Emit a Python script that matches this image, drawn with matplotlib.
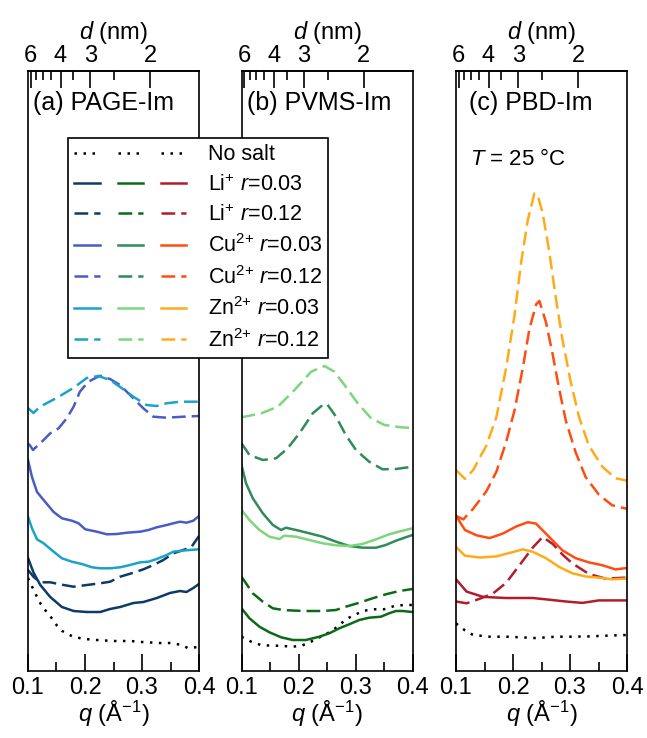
import numpy as np
import matplotlib
matplotlib.use('Agg')
import matplotlib.pyplot as plt
from matplotlib.lines import Line2D
from matplotlib.legend_handler import HandlerTuple

plt.rcParams['font.family'] = ['Liberation Sans', 'DejaVu Sans']
plt.rcParams['mathtext.fontset'] = 'custom'
plt.rcParams['mathtext.rm'] = 'Liberation Sans'
plt.rcParams['mathtext.it'] = 'Liberation Sans:italic'
plt.rcParams['mathtext.bf'] = 'Liberation Sans:bold'

# ---- (a) PAGE-Im ----
q_a_none = [0.10, 0.11, 0.12, 0.13, 0.14, 0.15, 0.16, 0.18, 0.20, 0.22, 0.25, 0.28, 0.30, 0.33, 0.35, 0.37, 0.38, 0.40]
I_a_none = [0.93, 0.81, 0.69, 0.61, 0.54, 0.46, 0.40, 0.34, 0.32, 0.31, 0.30, 0.30, 0.29, 0.28, 0.28, 0.26, 0.23, 0.24]
q_a_li03 = [0.100, 0.110, 0.1216, 0.139, 0.1595, 0.180, 0.203, 0.2267, 0.244, 0.2617, 0.285, 0.3025, 0.326, 0.349, 0.3667, 0.378, 0.390, 0.400]
I_a_li03 = [1.13, 0.98, 0.86, 0.74, 0.64, 0.60, 0.59, 0.59, 0.62, 0.64, 0.68, 0.69, 0.73, 0.78, 0.80, 0.79, 0.83, 0.87]
q_a_li12 = [0.100, 0.110, 0.1216, 0.139, 0.1624, 0.180, 0.2033, 0.2266, 0.2442, 0.2617, 0.285, 0.3025, 0.320, 0.3375, 0.355, 0.3726, 0.387, 0.400]
I_a_li12 = [1.01, 0.94, 0.887, 0.887, 0.86, 0.843, 0.86, 0.877, 0.893, 0.943, 0.983, 1.017, 1.06, 1.11, 1.177, 1.21, 1.243, 1.35]
q_a_cu03 = [0.100, 0.107, 0.1158, 0.1274, 0.145, 0.1595, 0.177, 0.1887, 0.2004, 0.2208, 0.2383, 0.2558, 0.2733, 0.2967, 0.3113, 0.3259, 0.3434, 0.355, 0.3667, 0.378, 0.390, 0.400]
I_a_cu03 = [2.11, 1.94, 1.79, 1.71, 1.59, 1.527, 1.503, 1.477, 1.417, 1.393, 1.367, 1.37, 1.383, 1.393, 1.41, 1.437, 1.46, 1.477, 1.493, 1.483, 1.503, 1.55]
q_a_cu12 = [0.100, 0.103, 0.1087, 0.1274, 0.139, 0.1537, 0.168, 0.180, 0.191, 0.2058, 0.2263, 0.2439, 0.2614, 0.279, 0.3023, 0.3199, 0.343, 0.3725, 0.400]
I_a_cu12 = [2.27, 2.26, 2.21, 2.31, 2.377, 2.427, 2.527, 2.643, 2.793, 2.893, 2.953, 2.92, 2.86, 2.76, 2.627, 2.543, 2.533, 2.543, 2.55]
q_a_zn03 = [0.100, 0.107, 0.1158, 0.1274, 0.145, 0.1595, 0.177, 0.1946, 0.2121, 0.2267, 0.2442, 0.2617, 0.2792, 0.2967, 0.3113, 0.3259, 0.3434, 0.355, 0.3696, 0.3842, 0.400]
I_a_zn03 = [1.543, 1.427, 1.317, 1.277, 1.193, 1.127, 1.093, 1.07, 1.037, 1.027, 1.027, 1.037, 1.06, 1.087, 1.093, 1.12, 1.16, 1.193, 1.203, 1.21, 1.217]
q_a_zn12 = [0.100, 0.1095, 0.121, 0.150, 0.1795, 0.203, 0.2233, 0.2439, 0.261, 0.2848, 0.308, 0.326, 0.343, 0.367, 0.400]
I_a_zn12 = [2.63, 2.58, 2.643, 2.73, 2.83, 2.93, 2.95, 2.91, 2.843, 2.743, 2.66, 2.65, 2.677, 2.693, 2.693]

# ---- (b) PVMS-Im ----
q_b_none = [0.100, 0.117, 0.134, 0.152, 0.169, 0.187, 0.2045, 0.222, 0.254, 0.2687, 0.283, 0.298, 0.315, 0.333, 0.350, 0.368, 0.385, 0.400]
I_b_none = [0.343, 0.293, 0.26, 0.253, 0.253, 0.243, 0.25, 0.293, 0.387, 0.443, 0.517, 0.56, 0.603, 0.617, 0.617, 0.65, 0.66, 0.66]
q_b_li03 = [0.100, 0.114, 0.1315, 0.149, 0.1695, 0.190, 0.213, 0.2366, 0.254, 0.2716, 0.289, 0.3067, 0.324, 0.3446, 0.359, 0.3708, 0.3825, 0.400]
I_b_li03 = [0.627, 0.527, 0.443, 0.387, 0.337, 0.31, 0.31, 0.343, 0.377, 0.427, 0.467, 0.51, 0.533, 0.543, 0.577, 0.60, 0.60, 0.59]
q_b_li12 = [0.100, 0.1198, 0.1374, 0.155, 0.1724, 0.1957, 0.219, 0.2424, 0.2658, 0.283, 0.3067, 0.330, 0.3533, 0.3767, 0.400]
I_b_li12 = [0.943, 0.777, 0.693, 0.627, 0.61, 0.603, 0.60, 0.60, 0.61, 0.643, 0.683, 0.727, 0.767, 0.80, 0.82]
q_b_cu03 = [0.100, 0.108, 0.1198, 0.1374, 0.155, 0.1695, 0.178, 0.1957, 0.219, 0.2424, 0.2658, 0.289, 0.3125, 0.336, 0.353, 0.371, 0.388, 0.400]
I_b_cu03 = [2.06, 1.877, 1.727, 1.577, 1.46, 1.41, 1.433, 1.41, 1.377, 1.343, 1.293, 1.25, 1.233, 1.233, 1.26, 1.303, 1.337, 1.36]
q_b_cu12 = [0.100, 0.114, 0.1374, 0.1607, 0.181, 0.2016, 0.225, 0.2424, 0.250, 0.2658, 0.283, 0.3008, 0.324, 0.3475, 0.371, 0.400]
I_b_cu12 = [2.277, 2.16, 2.11, 2.127, 2.227, 2.377, 2.577, 2.66, 2.67, 2.543, 2.36, 2.21, 2.093, 2.017, 2.02, 2.043]
q_b_zn03 = [0.100, 0.114, 0.1315, 0.149, 0.1665, 0.175, 0.1957, 0.219, 0.2424, 0.2658, 0.289, 0.3125, 0.336, 0.359, 0.3825, 0.400]
I_b_zn03 = [1.61, 1.51, 1.41, 1.343, 1.32, 1.353, 1.343, 1.31, 1.277, 1.257, 1.25, 1.27, 1.317, 1.367, 1.403, 1.427]
q_b_zn12 = [0.100, 0.1345, 0.1637, 0.193, 0.2222, 0.2456, 0.263, 0.2807, 0.304, 0.3275, 0.351, 0.380, 0.400]
I_b_zn12 = [2.537, 2.577, 2.643, 2.81, 2.993, 3.05, 2.993, 2.86, 2.677, 2.527, 2.46, 2.437, 2.43]

# ---- (c) PBD-Im ----
q_c_none = [0.100, 0.1157, 0.130, 0.159, 0.188, 0.217, 0.240, 0.275, 0.304, 0.333, 0.362, 0.400]
I_c_none = [0.476, 0.406, 0.36, 0.343, 0.343, 0.336, 0.329, 0.343, 0.343, 0.346, 0.353, 0.36]
q_c_li03 = [0.100, 0.1186, 0.1476, 0.188, 0.2346, 0.2636, 0.2927, 0.3217, 0.3507, 0.3797, 0.400]
I_c_li03 = [0.917, 0.794, 0.741, 0.73, 0.73, 0.713, 0.695, 0.681, 0.706, 0.706, 0.706]
q_c_li12 = [0.100, 0.1186, 0.1418, 0.165, 0.188, 0.2114, 0.2346, 0.252, 0.270, 0.2868, 0.3043, 0.3333, 0.3623, 0.400]
I_c_li12 = [0.695, 0.677, 0.723, 0.776, 0.882, 1.058, 1.234, 1.34, 1.269, 1.164, 1.075, 0.97, 0.924, 0.934]
q_c_cu03 = [0.100, 0.1157, 0.136, 0.159, 0.1824, 0.2056, 0.226, 0.2404, 0.2636, 0.2868, 0.310, 0.3333, 0.3565, 0.3797, 0.400]
I_c_cu03 = [1.551, 1.41, 1.357, 1.329, 1.375, 1.445, 1.488, 1.474, 1.34, 1.206, 1.128, 1.086, 1.058, 1.016, 1.03]
q_c_cu12 = [0.100, 0.1128, 0.130, 0.1534, 0.1708, 0.188, 0.2027, 0.2172, 0.2288, 0.2404, 0.2462, 0.2578, 0.2694, 0.281, 0.2927, 0.310, 0.3275, 0.3507, 0.374, 0.400]
I_c_cu12 = [1.551, 1.516, 1.622, 1.798, 1.992, 2.291, 2.608, 3.031, 3.419, 3.665, 3.701, 3.489, 3.172, 2.82, 2.503, 2.185, 1.939, 1.763, 1.657, 1.622]
q_c_zn03 = [0.100, 0.1157, 0.1418, 0.1708, 0.194, 0.2172, 0.2346, 0.2578, 0.281, 0.3043, 0.3275, 0.3507, 0.374, 0.400]
I_c_zn03 = [1.241, 1.153, 1.135, 1.146, 1.181, 1.216, 1.192, 1.128, 1.04, 0.977, 0.945, 0.934, 0.917, 0.924]
q_c_zn12 = [0.100, 0.1157, 0.130, 0.1534, 0.1708, 0.188, 0.2027, 0.2143, 0.226, 0.2375, 0.2433, 0.252, 0.2636, 0.275, 0.2868, 0.3013, 0.3159, 0.333, 0.3565, 0.3797, 0.400]
I_c_zn12 = [2.009, 1.921, 2.009, 2.256, 2.538, 3.031, 3.56, 4.088, 4.511, 4.775, 4.758, 4.581, 4.194, 3.736, 3.313, 2.89, 2.538, 2.256, 2.044, 1.928, 1.903]

panel_titles = ['(a) PAGE-Im', '(b) PVMS-Im', '(c) PBD-Im']
colors_a = ['#0e3a66', '#4a5cc4', '#1aa3c8']   # Li, Cu, Zn
colors_b = ['#0b6a17', '#2f8c58', '#7dd67b']
colors_c = ['#b01e2d', '#ff4d12', '#ffab19']
legend_labels = ['No salt',
                 'Li$^{+}$ $r$=0.03', 'Li$^{+}$ $r$=0.12',
                 'Cu$^{2{+}}$ $r$=0.03', 'Cu$^{2{+}}$ $r$=0.12',
                 'Zn$^{2{+}}$ $r$=0.03', 'Zn$^{2{+}}$ $r$=0.12']

LW = 1.8
DOTTED = (0, (1, 2.6))
DASHED = (0, (5.5, 2.4))
FS = 17


def q_to_d(q):
    # d (nm) = 2*pi / q, q in 1/Angstrom
    q = np.asarray(q, dtype=float)
    with np.errstate(divide='ignore'):
        return 2 * np.pi / (10 * q)


panels = [
    (colors_a, [(q_a_none, I_a_none), (q_a_li03, I_a_li03), (q_a_li12, I_a_li12),
                (q_a_cu03, I_a_cu03), (q_a_cu12, I_a_cu12),
                (q_a_zn03, I_a_zn03), (q_a_zn12, I_a_zn12)]),
    (colors_b, [(q_b_none, I_b_none), (q_b_li03, I_b_li03), (q_b_li12, I_b_li12),
                (q_b_cu03, I_b_cu03), (q_b_cu12, I_b_cu12),
                (q_b_zn03, I_b_zn03), (q_b_zn12, I_b_zn12)]),
    (colors_c, [(q_c_none, I_c_none), (q_c_li03, I_c_li03), (q_c_li12, I_c_li12),
                (q_c_cu03, I_c_cu03), (q_c_cu12, I_c_cu12),
                (q_c_zn03, I_c_zn03), (q_c_zn12, I_c_zn12)]),
]

fig = plt.figure(figsize=(6.47, 7.38), dpi=100)
lefts = [28 / 647, 241.5 / 647, 456 / 647]
title_dx = [5, 5, 13]
axes = []

for i, (colors, series) in enumerate(panels):
    ax = fig.add_axes([lefts[i], 67 / 738, 171 / 647, 600 / 738])
    axes.append(ax)

    q0, I0 = series[0]
    ax.plot(q0, I0, color='k', lw=LW, ls=DOTTED)
    for j, (q, I) in enumerate(series[1:]):
        ls = '-' if j % 2 == 0 else DASHED
        ax.plot(q, I, color=colors[j // 2], lw=LW, ls=ls)

    ax.set_xlim(0.1, 0.4)
    ax.set_ylim(0, 6)
    ax.set_yticks([])
    ax.set_xticks([0.1, 0.2, 0.3, 0.4])
    ax.set_xticklabels(['0.1', '0.2', '0.3', '0.4'])
    ax.set_xticks([0.15, 0.25, 0.35], minor=True)
    ax.tick_params(axis='x', which='both', direction='in', top=False, width=1.2)
    ax.tick_params(axis='x', which='major', length=12, pad=4, labelsize=FS)
    ax.tick_params(axis='x', which='minor', length=6.5)
    for sp in ax.spines.values():
        sp.set_linewidth(1.2)
    ax.set_xlabel('$q$ (Å$^{-1}$)', fontsize=FS, labelpad=0)

    sec = ax.secondary_xaxis('top', functions=(q_to_d, q_to_d))
    sec.set_ticks([6, 4, 3, 2], labels=['6', '4', '3', '2'])
    sec.set_ticks([5.5, 5, 4.5, 3.5, 2.5], minor=True)
    sec.tick_params(which='both', direction='in', width=1.2)
    sec.tick_params(which='major', length=12, pad=3, labelsize=FS)
    sec.tick_params(which='minor', length=6.5)
    sec.spines['top'].set_linewidth(1.2)
    sec.set_xlabel('$d$ (nm)', fontsize=FS, labelpad=4)

    ax.text(title_dx[i] / 171, 0.947, panel_titles[i], transform=ax.transAxes,
            fontsize=18, ha='left', va='center')

axes[2].text(14 / 171, 0.852, '$T$ = 25 °C', transform=axes[2].transAxes,
             fontsize=16, ha='left', va='center')

# legend: one sample per polymer in each row
handles = [tuple(Line2D([], [], color='k', lw=LW, ls=DOTTED) for _ in range(3))]
for j in range(6):
    ls = '-' if j % 2 == 0 else DASHED
    handles.append(tuple(Line2D([], [], color=c[j // 2], lw=LW, ls=ls)
                         for c in (colors_a, colors_b, colors_c)))

leg = fig.legend(handles, legend_labels, loc='upper left',
                 bbox_to_anchor=(68 / 647, 1 - 138 / 738), bbox_transform=fig.transFigure,
                 borderaxespad=0, handler_map={tuple: HandlerTuple(ndivide=None, pad=0.8)},
                 handlelength=5.2, handletextpad=1.0, borderpad=0.3, labelspacing=0.4,
                 fontsize=15.5, frameon=True, fancybox=False, framealpha=1)
leg.get_frame().set_edgecolor('k')
leg.get_frame().set_linewidth(1.2)

fig.savefig('out.png', dpi=100)
